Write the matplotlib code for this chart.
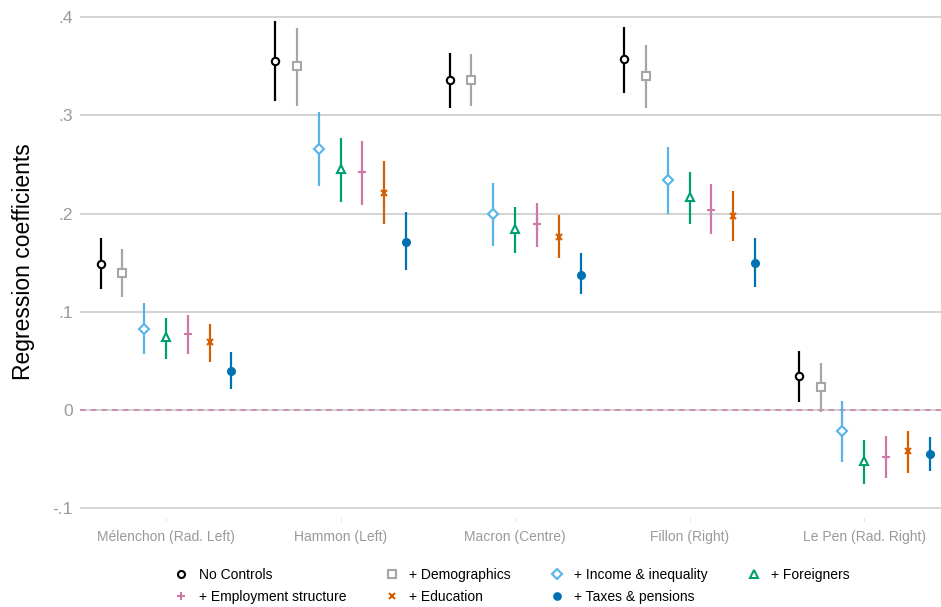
import matplotlib
matplotlib.use("Agg")
import matplotlib.pyplot as plt
import numpy as np

plt.rcParams['font.family'] = ['Liberation Sans', 'DejaVu Sans']

candidates = ["Mélenchon (Rad. Left)", "Hammon (Left)", "Macron (Centre)",
              "Fillon (Right)", "Le Pen (Rad. Right)"]
series = ["No Controls", "+ Demographics", "+ Income & inequality", "+ Foreigners",
          "+ Employment structure", "+ Education", "+ Taxes & pensions"]

# estimates per series (rows) for each candidate (columns)
coef = [
    [0.149, 0.355, 0.336, 0.357, 0.035],
    [0.140, 0.350, 0.336, 0.340, 0.023],
    [0.083, 0.266, 0.200, 0.234, -0.021],
    [0.074, 0.245, 0.184, 0.217, -0.052],
    [0.077, 0.242, 0.189, 0.204, -0.048],
    [0.069, 0.221, 0.176, 0.198, -0.042],
    [0.040, 0.171, 0.138, 0.150, -0.045],
]
ci_low = [
    [0.123, 0.315, 0.308, 0.323, 0.008],
    [0.115, 0.310, 0.310, 0.308, -0.002],
    [0.057, 0.228, 0.167, 0.200, -0.053],
    [0.052, 0.212, 0.160, 0.189, -0.075],
    [0.057, 0.209, 0.166, 0.179, -0.069],
    [0.049, 0.189, 0.155, 0.172, -0.064],
    [0.021, 0.143, 0.118, 0.125, -0.062],
]
ci_high = [
    [0.175, 0.396, 0.364, 0.390, 0.060],
    [0.164, 0.389, 0.363, 0.372, 0.048],
    [0.109, 0.304, 0.231, 0.268, 0.009],
    [0.094, 0.277, 0.207, 0.242, -0.031],
    [0.097, 0.274, 0.211, 0.230, -0.026],
    [0.088, 0.254, 0.199, 0.223, -0.021],
    [0.059, 0.202, 0.160, 0.175, -0.027],
]
yticks = [-0.1, 0, 0.1, 0.2, 0.3, 0.4]
ytick_labels = ["-.1", "0", ".1", ".2", ".3", ".4"]

colors = ["#000000", "#A6A6A6", "#56B4E9", "#009E73", "#CC79A7", "#D55E00", "#0072B2"]
markers = ["o", "s", "D", "^", "+", "x", "o"]
msizes = [5.3, 5.5, 5.0, 6.0, 6.0, 3.8, 5.0]
filled = [False, False, False, False, True, True, True]

fig = plt.figure(figsize=(9.41, 6.07), dpi=100)
ax = fig.add_axes([80/941, (607-518)/607, (941-80)/941, (518-5)/607])

x = np.arange(len(candidates))
offsets = (np.arange(len(series)) - 3) * 0.125

for yv in yticks:
    ax.axhline(yv, color="#c8c8c8", lw=1.1, zorder=0)
ax.axhline(0, color="#CC79A7", lw=1.4, ls=(0, (3, 2.5)), alpha=0.75, zorder=1)

handles = []
for i, s in enumerate(series):
    xs = x + offsets[i]
    c = np.array(coef[i]); lo = np.array(ci_low[i]); hi = np.array(ci_high[i])
    ax.vlines(xs, lo, hi, color=colors[i], lw=1.6, zorder=2)
    h, = ax.plot(xs, c, ls="none", marker=markers[i], ms=msizes[i],
                 mec=colors[i], mfc=colors[i] if filled[i] else "white",
                 mew=1.5, zorder=3, label=s)
    handles.append(h)

ax.set_xlim(-0.493, 4.44)
ax.set_ylim(-0.110, 0.4125)
ax.set_yticks(yticks)
ax.set_yticklabels(ytick_labels)
ax.set_xticks(x)
ax.set_xticklabels(candidates)
ax.tick_params(axis="y", length=0, pad=5, labelsize=12.5, labelcolor="#9a9a9a")
ax.tick_params(axis="x", length=2, width=0.6, color="#dddddd", pad=7,
               labelsize=10, labelcolor="#9a9a9a")
for sp in ax.spines.values():
    sp.set_visible(False)
ax.set_ylabel("Regression coefficients", fontsize=16.5, labelpad=13)

order = [0, 4, 1, 5, 2, 6, 3]
fig.legend([handles[k] for k in order], [series[k] for k in order],
           ncol=4, loc="center", bbox_to_anchor=(512/941, 1 - 586/607),
           frameon=False, fontsize=10, handlelength=1.0, handletextpad=0.75,
           columnspacing=2.8, labelspacing=0.6, markerscale=0.95)

fig.savefig("out.png", dpi=100)
